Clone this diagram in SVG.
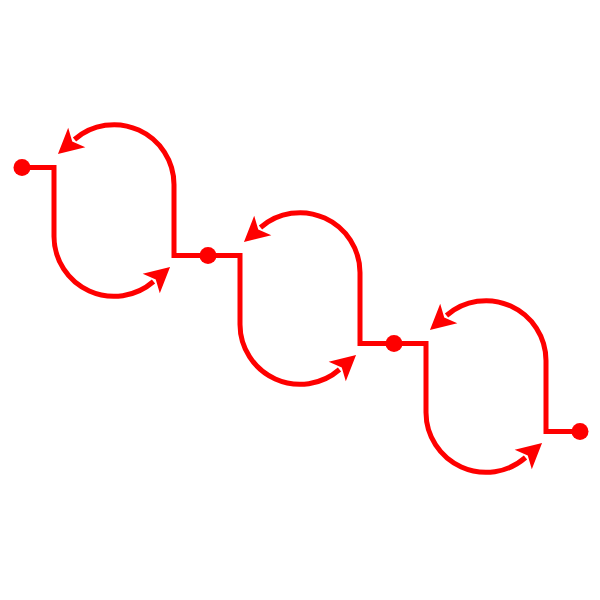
<svg xmlns="http://www.w3.org/2000/svg" width="600" height="600" viewBox="0 0 600 600">
<style>
.c{fill:none;stroke:#fe0000;stroke-width:5;stroke-linejoin:miter}
.d{fill:#fe0000}
</style>
<defs>
<marker id="ah" markerUnits="userSpaceOnUse" markerWidth="40" markerHeight="40" refX="10" refY="20" orient="auto" overflow="visible">
<path d="M32,20 L7,7 L13,20 L7,33 Z" fill="#fe0000"/>
</marker>
<g id="unit">
<path class="c" d="M0,0 H32 V69 A60,60 0 0 0 131.5,114" marker-end="url(#ah)"/>
<path class="c" d="M186,88 H152 V17 A60,60 0 0 0 52.5,-28" marker-end="url(#ah)"/>
</g>
</defs>
<rect width="600" height="600" fill="#fff"/>
<g id="connectors">
<use href="#unit" transform="translate(22,167.5)"/>
<use href="#unit" transform="translate(208,255.5)"/>
<use href="#unit" transform="translate(394,343.5)"/>
</g>
<g id="node1"><circle class="d" cx="22" cy="167.5" r="8.5"/></g>
<g id="node2"><circle class="d" cx="208" cy="255.5" r="8.5"/></g>
<g id="node3"><circle class="d" cx="394" cy="343.5" r="8.5"/></g>
<g id="node4"><circle class="d" cx="580" cy="431.5" r="8.5"/></g>
</svg>
